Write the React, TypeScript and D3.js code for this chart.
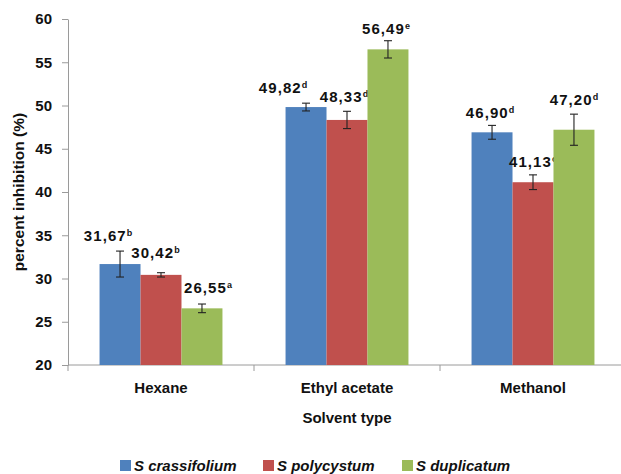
import * as d3 from "d3";
import React, { useEffect, useRef } from "react";

const categories = ["Hexane", "Ethyl acetate", "Methanol"];
const seriesNames = ["S crassifolium", "S polycystum", "S duplicatum"];
const seriesColors = ["#4f81bd", "#c0504d", "#9bbb59"];

// values per series, in category order
const crassifolium = [31.67, 49.82, 46.9];
const polycystum = [30.42, 48.33, 41.13];
const duplicatum = [26.55, 56.49, 47.2];

const crassifoliumErr = [1.5, 0.45, 0.8];
const polycystumErr = [0.25, 1.0, 0.85];
const duplicatumErr = [0.5, 1.0, 1.8];

const crassifoliumLetter = ["b", "d", "d"];
const polycystumLetter = ["b", "d", "c"];
const duplicatumLetter = ["a", "e", "d"];

const yTicks = [20, 25, 30, 35, 40, 45, 50, 55, 60];

// hand placement of the value labels (dx, dy), series-major
const labelNudge = [
    [[-12, -1], [-23, -1], [-2, 1.5]],
    [[-5.5, -6], [-3, 0], [0, 1]],
    [[6, -2], [-2, 2], [0, 0]],
];

const width = 621;
const height = 474;
const margin = { left: 68, top: 19, right: 626, bottom: 365 };
const font = "'Liberation Sans', Arial, sans-serif";

const App: React.FC = () => {
    const ref = useRef<SVGSVGElement>(null);

    useEffect(() => {
        if (!ref.current) return;
        const svg = d3.select(ref.current);
        svg.selectAll("*").remove();

        const values = [crassifolium, polycystum, duplicatum];
        const errs = [crassifoliumErr, polycystumErr, duplicatumErr];
        const letters = [crassifoliumLetter, polycystumLetter, duplicatumLetter];

        const x0 = d3.scaleBand().domain(categories).range([margin.left, margin.right]);
        const x1 = d3.scaleBand().domain(seriesNames).range([0, x0.bandwidth()]).paddingOuter(0.77);
        const y = d3.scaleLinear().domain([20, 60]).range([margin.bottom, margin.top]);

        // y axis
        const yAxis = svg.append("g")
            .attr("transform", `translate(${margin.left},0)`)
            .call(d3.axisLeft(y).tickValues(yTicks).tickSize(6).tickPadding(10).tickSizeOuter(0));
        yAxis.select(".domain").attr("stroke", "#9a9a9a");
        yAxis.selectAll(".tick line").attr("stroke", "#9a9a9a");
        yAxis.selectAll(".tick text")
            .attr("font-family", font)
            .attr("font-weight", "bold")
            .attr("font-size", 15)
            .attr("fill", "#111");

        // x axis
        svg.append("line")
            .attr("x1", margin.left).attr("x2", width)
            .attr("y1", margin.bottom).attr("y2", margin.bottom)
            .attr("stroke", "#9a9a9a");
        svg.selectAll(null)
            .data(categories)
            .enter()
            .append("line")
            .attr("x1", (d) => x0(d)!)
            .attr("x2", (d) => x0(d)!)
            .attr("y1", margin.bottom)
            .attr("y2", margin.bottom + 6)
            .attr("stroke", "#9a9a9a");

        svg.selectAll(null)
            .data(categories)
            .enter()
            .append("text")
            .attr("x", (d) => x0(d)! + x0.bandwidth() / 2)
            .attr("y", 393)
            .attr("text-anchor", "middle")
            .attr("font-family", font)
            .attr("font-weight", "bold")
            .attr("font-size", 15)
            .attr("fill", "#111")
            .text((d) => d);

        svg.append("text")
            .attr("x", (margin.left + margin.right) / 2)
            .attr("y", 423)
            .attr("text-anchor", "middle")
            .attr("font-family", font)
            .attr("font-weight", "bold")
            .attr("font-size", 15)
            .attr("fill", "#111")
            .text("Solvent type");

        svg.append("text")
            .attr("transform", `translate(24, ${(margin.top + margin.bottom) / 2}) rotate(-90)`)
            .attr("text-anchor", "middle")
            .attr("font-family", font)
            .attr("font-weight", "bold")
            .attr("font-size", 15.5)
            .attr("fill", "#111")
            .text("percent inhibition (%)");

        seriesNames.forEach((name, s) => {
            const g = svg.append("g");
            const rows = categories.map((c, i) => ({
                c, i, v: values[s][i], e: errs[s][i], l: letters[s][i],
                cx: x0(c)! + x1(name)! + x1.bandwidth() / 2,
            }));

            g.selectAll("rect")
                .data(rows)
                .join("rect")
                .attr("x", (d) => x0(d.c)! + x1(name)!)
                .attr("y", (d) => y(d.v))
                .attr("width", x1.bandwidth())
                .attr("height", (d) => y(20) - y(d.v))
                .attr("fill", seriesColors[s]);

            const err = g.selectAll(null).data(rows).enter().append("g")
                .attr("stroke", "#222").attr("stroke-width", 1.1);
            err.append("line")
                .attr("x1", (d) => d.cx).attr("x2", (d) => d.cx)
                .attr("y1", (d) => y(d.v + d.e)).attr("y2", (d) => y(d.v - d.e));
            err.append("line")
                .attr("x1", (d) => d.cx - 4).attr("x2", (d) => d.cx + 4)
                .attr("y1", (d) => y(d.v + d.e)).attr("y2", (d) => y(d.v + d.e));
            err.append("line")
                .attr("x1", (d) => d.cx - 4).attr("x2", (d) => d.cx + 4)
                .attr("y1", (d) => y(d.v - d.e)).attr("y2", (d) => y(d.v - d.e));

            const label = g.selectAll(null).data(rows).enter().append("text")
                .attr("x", (d) => d.cx + labelNudge[s][d.i][0])
                .attr("y", (d) => y(d.v + d.e) - 9 + labelNudge[s][d.i][1])
                .attr("text-anchor", "middle")
                .attr("font-family", font)
                .attr("font-weight", "bold")
                .attr("font-size", 15)
                .attr("letter-spacing", 1.1)
                .attr("fill", "#111");
            label.append("tspan").text((d) => d.v.toFixed(2).replace(".", ","));
            label.append("tspan")
                .attr("font-size", 9)
                .attr("dy", -5)
                .attr("letter-spacing", 0)
                .text((d) => d.l);
        });

        // legend
        const legendX = [120, 263, 402];
        const legend = svg.selectAll(null)
            .data(seriesNames)
            .enter()
            .append("g")
            .attr("transform", (_, i) => `translate(${legendX[i]}, 460)`);
        legend.append("rect")
            .attr("width", 11).attr("height", 11)
            .attr("fill", (_, i) => seriesColors[i]);
        legend.append("text")
            .attr("x", 14).attr("y", 11)
            .attr("font-family", font)
            .attr("font-weight", "bold")
            .attr("font-style", "italic")
            .attr("font-size", 15)
            .attr("fill", "#111")
            .text((d) => d);
    }, []);

    return (
        <svg
            ref={ref}
            width={width}
            height={height}
            style={{ position: "absolute", left: 0, top: 0, background: "#fff" }}
        />
    );
};

export default App;
